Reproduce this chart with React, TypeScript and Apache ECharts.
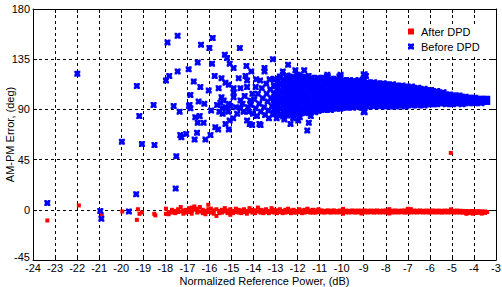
import React, { useEffect, useRef } from "react";
import * as echarts from "echarts";

// ---- Data ----
const xTicks = { min: -24, max: -3, interval: 1 };
const yTicks = { min: -45, max: 180, interval: 45 };

// "After DPD" isolated points [x, y]
const afterSparse: [number, number][] = [
  [-23.35, -9.6], [-21.92, 3.9], [-20.88, -4], [-19.95, -1.5], [-19.29, -9],
  [-19.24, 0.5], [-19.17, -3.6], [-19.06, -2.4], [-18.5, -3.6], [-18.45, -5],
  [-5.05, 51],
];

// "After DPD" dense band: [x, y values at that x]
const afterBand: [number, number[]][] = [
  [-17.97, [1, -3.6]], [-17.85, [-2, -4]], [-17.7, [0, -2.5]], [-17.55, [-1, -3]],
  [-17.42, [0.5, -2]], [-17.3, [2.5, -1.5]], [-17.18, [-0.5, -3.5]], [-17.05, [0, -2.5]],
  [-16.92, [1.5, -2]], [-16.8, [2, -1, -3.5]], [-16.68, [3, 0]], [-16.55, [1, -2.5]],
  [-16.43, [2.5, -1.5]], [-16.3, [0, -3]], [-16.18, [-1, -4]], [-16.05, [4.5, 0.5, -2]],
  [-15.93, [1, -2.5]], [-15.8, [-0.5, -3.5]], [-15.68, [0.5, -5.5]], [-15.55, [-1, -3]],
  [-15.43, [0, -2.5]], [-15.3, [1.5, -1.5]], [-15.18, [-0.5, -3]], [-15.05, [0.5, -2.5, -4.5]],
  [-14.93, [-1, -3]], [-14.8, [1, -2]], [-14.68, [0, -2.5]], [-14.55, [-0.5, -3]],
  [-14.43, [0.5, -2]], [-14.3, [-1, -3.5]], [-14.18, [1.5, -1.5]], [-14.05, [0, -2.5]],
  [-13.93, [-0.5, -3]], [-13.8, [2, -1.5]], [-13.68, [0, -2.5]], [-13.55, [-0.5, -3]],
  [-13.43, [0.5, -2]], [-13.3, [-1, -3]], [-13.18, [1.5, -2]], [-13.05, [0, -2.5]],
  [-12.93, [-0.5, -3]], [-12.8, [0.5, -2]], [-12.68, [-1, -3]], [-12.55, [0, -2.5]],
  [-12.43, [1, -2]], [-12.3, [-0.5, -3]], [-12.18, [0, -2.5]], [-12.05, [-1, -2.5]],
  [-11.93, [0.5, -2]], [-11.8, [-0.5, -3]], [-11.68, [0, -2.5]], [-11.55, [1, -2]],
  [-11.43, [-0.5, -2.5]], [-11.3, [0, -2.5]], [-11.18, [-0.5, -2.5]], [-11.05, [0.5, -2]],
  [-10.92, [-0.5, -2.3]], [-10.78, [-1, -2.5]], [-10.64, [-0.5, -2.2]], [-10.5, [-0.8, -2.5]],
  [-10.36, [-0.5, -2.3]], [-10.22, [-1, -2.4]], [-10.08, [-0.6, -2.3]], [-9.94, [0.8, -2.5, -3.5]],
  [-9.8, [-0.7, -2.3]], [-9.66, [-0.9, -2.4]], [-9.52, [-0.6, -2.2]], [-9.38, [-0.8, -2.5]],
  [-9.24, [-0.7, -2.3]], [-9.1, [-0.8, -2.4, -3.3]], [-8.96, [-0.6, -2.3]], [-8.82, [-0.9, -2.4]],
  [-8.68, [-0.7, -2.2]], [-8.54, [-0.8, -2.5]], [-8.4, [-0.6, -2.3]], [-8.26, [-0.9, -2.4]],
  [-8.12, [-0.7, -2.3]], [-7.98, [-0.6, -2.4]], [-7.84, [0.6, -2.2, -3.3]], [-7.7, [-0.8, -2.4]],
  [-7.56, [-0.6, -2.3]], [-7.42, [-0.9, -2.4]], [-7.28, [-0.7, -2.2]], [-7.14, [-0.6, -2.5]],
  [-7.0, [0.9, -0.8, -2.3]], [-6.86, [0.6, -2.4]], [-6.72, [-0.7, -2.3]], [-6.58, [-0.8, -2.4]],
  [-6.44, [-0.6, -2.2]], [-6.3, [-0.9, -2.4]], [-6.16, [-0.7, -2.3]], [-6.02, [-0.8, -2.5]],
  [-5.88, [-0.6, -2.3]], [-5.74, [-0.8, -2.4]], [-5.6, [-0.7, -2.3]], [-5.46, [-0.9, -2.5]],
  [-5.32, [-0.7, -2.3]], [-5.18, [-0.8, -2.4]], [-5.04, [0.4, -2.3]], [-4.9, [-0.8, -2.5]],
  [-4.76, [-0.7, -2.4]], [-4.62, [-0.9, -2.5]], [-4.48, [-1, -2.6]], [-4.34, [-1.1, -2.8, -3.6]],
  [-4.2, [-1.2, -2.9]], [-4.06, [-1.1, -2.8, -3.5]], [-3.92, [-1.3, -2.9]], [-3.78, [-1.2, -2.7]],
  [-3.64, [-1.4, -2.9, -3.4]], [-3.5, [-1.5, -2.8]], [-3.4, [-2.0]],
];

// "Before DPD" scattered points [x, y]
const beforeSparse: [number, number][] = [
  [-23.35, 6], [-21.99, 122], [-20.95, -1], [-20.9, -8], [-19.97, 61], [-19.65, -1.5],
  [-19.32, 14], [-19.29, 111], [-19.18, 84], [-19.06, 59], [-18.53, 94], [-18.49, 58],
  [-17.97, 116], [-17.9, 150], [-17.82, 120], [-17.53, 19], [-17.5, 48], [-17.44, 156],
  [-17.44, 124], [-17.62, 93], [-17.35, 88], [-17.32, 67], [-17.27, 65], [-17.05, 68],
  [-16.94, 126], [-16.92, 93], [-16.86, 103], [-16.9, 94], [-16.86, 91], [-16.67, 63],
  [-16.71, 115], [-16.64, 83], [-16.56, 69], [-16.53, 132], [-16.53, 78], [-16.49, 97],
  [-16.44, 84], [-16.41, 110], [-16.38, 148], [-16.26, 78], [-16.23, 95], [-16.18, 63],
  [-16.03, 107], [-16.0, 145], [-15.95, 67], [-15.92, 89], [-15.88, 131], [-15.85, 154],
  [-15.76, 120], [-15.73, 74], [-15.65, 94], [-15.6, 72], [-15.58, 109], [-15.45, 118],
  [-15.45, 101], [-15.42, 91], [-15.35, 98], [-15.3, 139], [-15.27, 114], [-15.27, 77],
  [-15.2, 136], [-15.12, 112], [-15.12, 95], [-15.12, 72], [-15.08, 131], [-15.08, 80],
  [-15.55, 88], [-15.4, 86], [-15.25, 92], [-15.15, 88], [-15.05, 93], [-15.5, 96],
  [-14.92, 82], [-14.9, 127], [-14.9, 109], [-14.9, 105], [-14.9, 101], [-14.74, 86],
  [-14.67, 118], [-14.62, 145], [-14.59, 109], [-14.59, 98], [-14.59, 91], [-14.36, 120],
  [-14.32, 129], [-14.29, 116], [-14.29, 110], [-14.29, 80], [-14.17, 77], [-14.1, 124],
  [-14.06, 76], [-13.88, 117], [-13.73, 77], [-13.68, 76], [-13.5, 127], [-13.5, 124],
  [-13.12, 135], [-12.67, 124], [-12.43, 130], [-12.32, 77], [-12.1, 125], [-11.97, 80],
  [-11.7, 125], [-11.56, 71], [-11.5, 120], [-11.49, 78], [-12.0, 121],
  [-14.8, 92], [-14.5, 95], [-14.45, 88], [-14.4, 102], [-14.25, 92], [-14.15, 98],
  [-14.22, 88], [-14.12, 94], [-14.02, 86], [-13.96, 99], [-13.9, 91], [-13.84, 84],
  [-13.8, 104], [-13.74, 95], [-13.67, 88], [-13.62, 109], [-13.58, 100], [-13.52, 92],
  [-13.47, 85], [-13.42, 113], [-13.4, 104], [-13.36, 97], [-13.32, 89], [-13.27, 117],
  [-13.24, 108], [-13.2, 100], [-13.16, 93], [-13.12, 86], [-13.9, 110], [-13.7, 116],
  [-14.05, 104], [-13.3, 82], [-12.95, 82], [-12.6, 81], [-12.2, 82], [-11.9, 83], [-11.4, 84],
  [-10.65, 121], [-10.05, 121], [-8.9, 120],
];

// "Before DPD" dense band: [x, y values at that x]
const beforeBand: [number, number[]][] = [
  [-13.05, [117, 111, 104, 99, 95, 90, 86]],
  [-12.92, [114, 108, 102, 97, 93, 88]],
  [-12.78, [119, 113, 106, 101, 96, 91, 85]],
  [-12.63, [116, 110, 105, 100, 94, 89, 84]],
  [-12.49, [120, 115, 111, 107, 102, 98, 93, 89, 85]],
  [-12.36, [118, 113, 109, 104, 100, 96, 91, 87]],
  [-12.21, [119, 115, 110, 106, 102, 97, 93, 88, 85]],
  [-12.07, [117, 113, 108, 104, 99, 95, 90, 86]],
  [-11.94, [120, 116, 112, 107, 103, 98, 94, 89, 86]],
  [-11.8, [118, 114, 110, 105, 101, 97, 92, 88]],
  [-11.65, [119, 115, 111, 106, 102, 98, 94, 90, 87]],
  [-11.51, [117, 113, 109, 104, 100, 95, 91, 88]],
  [-11.37, [118, 114, 110, 106, 102, 97, 93, 89]],
  [-11.22, [116, 112, 108, 103, 99, 95, 91, 88]],
  [-11.08, [118, 114, 109, 105, 101, 97, 93, 89]],
  [-10.94, [117, 113, 108, 104, 100, 96, 92, 90]],
  [-10.79, [118, 114, 110, 106, 102, 98, 94, 90]],
  [-10.65, [119, 116, 112, 107, 103, 99, 95, 91]],
  [-10.51, [117, 113, 109, 105, 101, 97, 93, 90]],
  [-10.36, [116, 112, 108, 104, 100, 96, 92]],
  [-10.22, [117, 113, 109, 105, 101, 97, 94, 91]],
  [-10.08, [119, 115, 111, 107, 103, 99, 95, 91]],
  [-9.93, [116, 112, 108, 104, 100, 96, 92]],
  [-9.79, [115, 111, 107, 103, 99, 95, 92]],
  [-9.64, [116, 112, 108, 104, 100, 96, 93]],
  [-9.5, [115, 111, 107, 103, 99, 96, 92]],
  [-9.36, [114, 110, 106, 102, 98, 95, 93]],
  [-9.21, [116, 112, 108, 104, 100, 96, 93]],
  [-9.07, [115, 111, 107, 103, 99, 95, 92]],
  [-8.98, [121, 117, 113, 109, 105, 101, 97, 93, 88]],
  [-8.84, [114, 110, 106, 102, 98, 95, 93]],
  [-8.7, [113, 109, 105, 101, 98, 94]],
  [-8.55, [114, 110, 106, 102, 99, 96, 93]],
  [-8.41, [113, 109, 105, 101, 97, 94]],
  [-8.27, [112, 108, 104, 100, 97, 93]],
  [-8.12, [113, 109, 105, 101, 97, 94]],
  [-7.98, [112, 108, 104, 100, 96, 93]],
  [-7.84, [111, 107, 103, 99, 96, 93]],
  [-7.69, [112, 108, 104, 100, 97, 94]],
  [-7.55, [111, 107, 103, 99, 96, 93]],
  [-7.41, [110, 106, 102, 99, 96, 94]],
  [-7.26, [111, 107, 103, 100, 97, 94]],
  [-7.12, [110, 106, 102, 99, 96, 93]],
  [-6.98, [109, 105, 101, 98, 95]],
  [-6.83, [110, 106, 102, 99, 96, 94]],
  [-6.69, [108, 104, 101, 98, 95]],
  [-6.55, [109, 105, 102, 99, 96, 94]],
  [-6.4, [107, 104, 101, 98, 95]],
  [-6.26, [108, 105, 102, 99, 96, 94]],
  [-6.12, [106, 103, 100, 97, 95]],
  [-5.97, [107, 104, 101, 98, 95]],
  [-5.83, [105, 102, 99, 96, 95]],
  [-5.69, [106, 103, 100, 97, 95]],
  [-5.54, [104, 101, 98, 96]],
  [-5.4, [105, 102, 99, 96]],
  [-5.26, [103, 100, 97, 95]],
  [-5.11, [103, 100, 98, 96]],
  [-4.97, [102, 100, 97, 95]],
  [-4.83, [102, 99, 97, 96]],
  [-4.68, [102, 100, 98, 96]],
  [-4.54, [101, 99, 97, 95]],
  [-4.4, [101, 99, 97, 96]],
  [-4.25, [100, 98, 96]],
  [-4.11, [100, 98, 97]],
  [-3.97, [100, 98, 96]],
  [-3.82, [99, 98, 97]],
  [-3.68, [99, 98, 96]],
  [-3.54, [99, 98, 97]],
  [-3.42, [99, 97]],
];

const seriesNames = ["After DPD", "Before DPD"];
const axisNames = { x: "Normalized Reference Power, (dB)", y: "AM-PM Error, (deg)" };

const X_SYMBOL =
  "path://M0,0H2.5L3.5,1L4.5,0H7V2.5L6,3.5L7,4.5V7H4.5L3.5,6L2.5,7H0V4.5L1,3.5L0,2.5Z";
const FONT = "'Liberation Sans', Arial, sans-serif";

function expand(band: [number, number[]][]): [number, number][] {
  const out: [number, number][] = [];
  band.forEach(([x, ys]) => ys.forEach((y) => out.push([x, y])));
  return out;
}

export default function App() {
  const ref = useRef<HTMLDivElement>(null);
  useEffect(() => {
    document.body.style.margin = "0";
    if (!ref.current) return;
    const chart = echarts.init(ref.current, undefined, { renderer: "svg" });
    const afterData = [...expand(afterBand), ...afterSparse];
    const beforeBandData = expand(beforeBand);
    const label = { color: "#000", fontSize: 11, fontFamily: FONT, lineHeight: 10 };
    const axisLine = { show: true, onZero: false, lineStyle: { color: "#000", width: 1 } };
    const tick = { show: true, inside: true, length: 4, lineStyle: { color: "#000" } };
    chart.setOption({
      animation: false,
      backgroundColor: "#fff",
      grid: {
        left: 33,
        right: 6,
        top: 9,
        bottom: 27,
        containLabel: false,
        outerBoundsMode: "none",
      },
      legend: {
        orient: "vertical",
        left: 404,
        top: 24,
        itemWidth: 6,
        itemHeight: 6,
        itemGap: 4,
        padding: [2, 6, 2, 4],
        backgroundColor: "#fff",
        textStyle: { color: "#000", fontSize: 11, fontFamily: FONT, padding: [0, 0, 0, 2] },
        data: [
          { name: seriesNames[0], icon: "rect" },
          { name: seriesNames[1], icon: X_SYMBOL },
        ],
      },
      xAxis: [
        {
          type: "value",
          ...xTicks,
          position: "bottom",
          axisLine,
          axisTick: tick,
          axisLabel: { ...label, margin: 3 },
          splitLine: { show: true, lineStyle: { color: "#000", type: [3, 3], width: 1 } },
          name: axisNames.x,
          nameLocation: "middle",
          nameGap: 15,
          nameMoveOverlap: false,
          nameTextStyle: { ...label, lineHeight: 12, verticalAlign: "top" },
        },
        {
          type: "value",
          ...xTicks,
          position: "top",
          axisLine,
          axisTick: tick,
          axisLabel: { show: false },
          splitLine: { show: false },
        },
      ],
      yAxis: [
        {
          type: "value",
          ...yTicks,
          position: "left",
          axisLine,
          axisTick: tick,
          axisLabel: {
            ...label,
            margin: 3,
            formatter: (v: number) => (v === yTicks.min ? `{lo|${v}}` : `${v}`),
            rich: { lo: { ...label, padding: [0, 0, 6, 0] } },
          },
          splitLine: { show: true, lineStyle: { color: "#000", type: [3, 3], width: 1 } },
          name: axisNames.y,
          nameLocation: "middle",
          nameGap: 17,
          nameMoveOverlap: false,
          nameTextStyle: { ...label, lineHeight: 12 },
        },
        {
          type: "value",
          ...yTicks,
          position: "right",
          axisLine,
          axisTick: tick,
          axisLabel: { show: false },
          splitLine: { show: false },
        },
      ],
      series: [
        {
          name: seriesNames[0],
          type: "scatter",
          xAxisIndex: 0,
          yAxisIndex: 0,
          symbol: "rect",
          symbolSize: 4,
          itemStyle: { color: "#ff0000", opacity: 1 },
          data: afterData,
        },
        {
          name: seriesNames[1],
          type: "scatter",
          xAxisIndex: 0,
          yAxisIndex: 0,
          symbol: X_SYMBOL,
          symbolSize: 6,
          itemStyle: { color: "#0000ff", opacity: 1 },
          data: beforeSparse,
        },
        {
          name: seriesNames[1],
          type: "scatter",
          xAxisIndex: 0,
          yAxisIndex: 0,
          symbol: X_SYMBOL,
          symbolSize: 7,
          itemStyle: { color: "#0000ff", opacity: 1 },
          data: beforeBandData,
        },
      ],
    });
    return () => chart.dispose();
  }, []);
  return <div ref={ref} style={{ width: 502, height: 287 }} />;
}
